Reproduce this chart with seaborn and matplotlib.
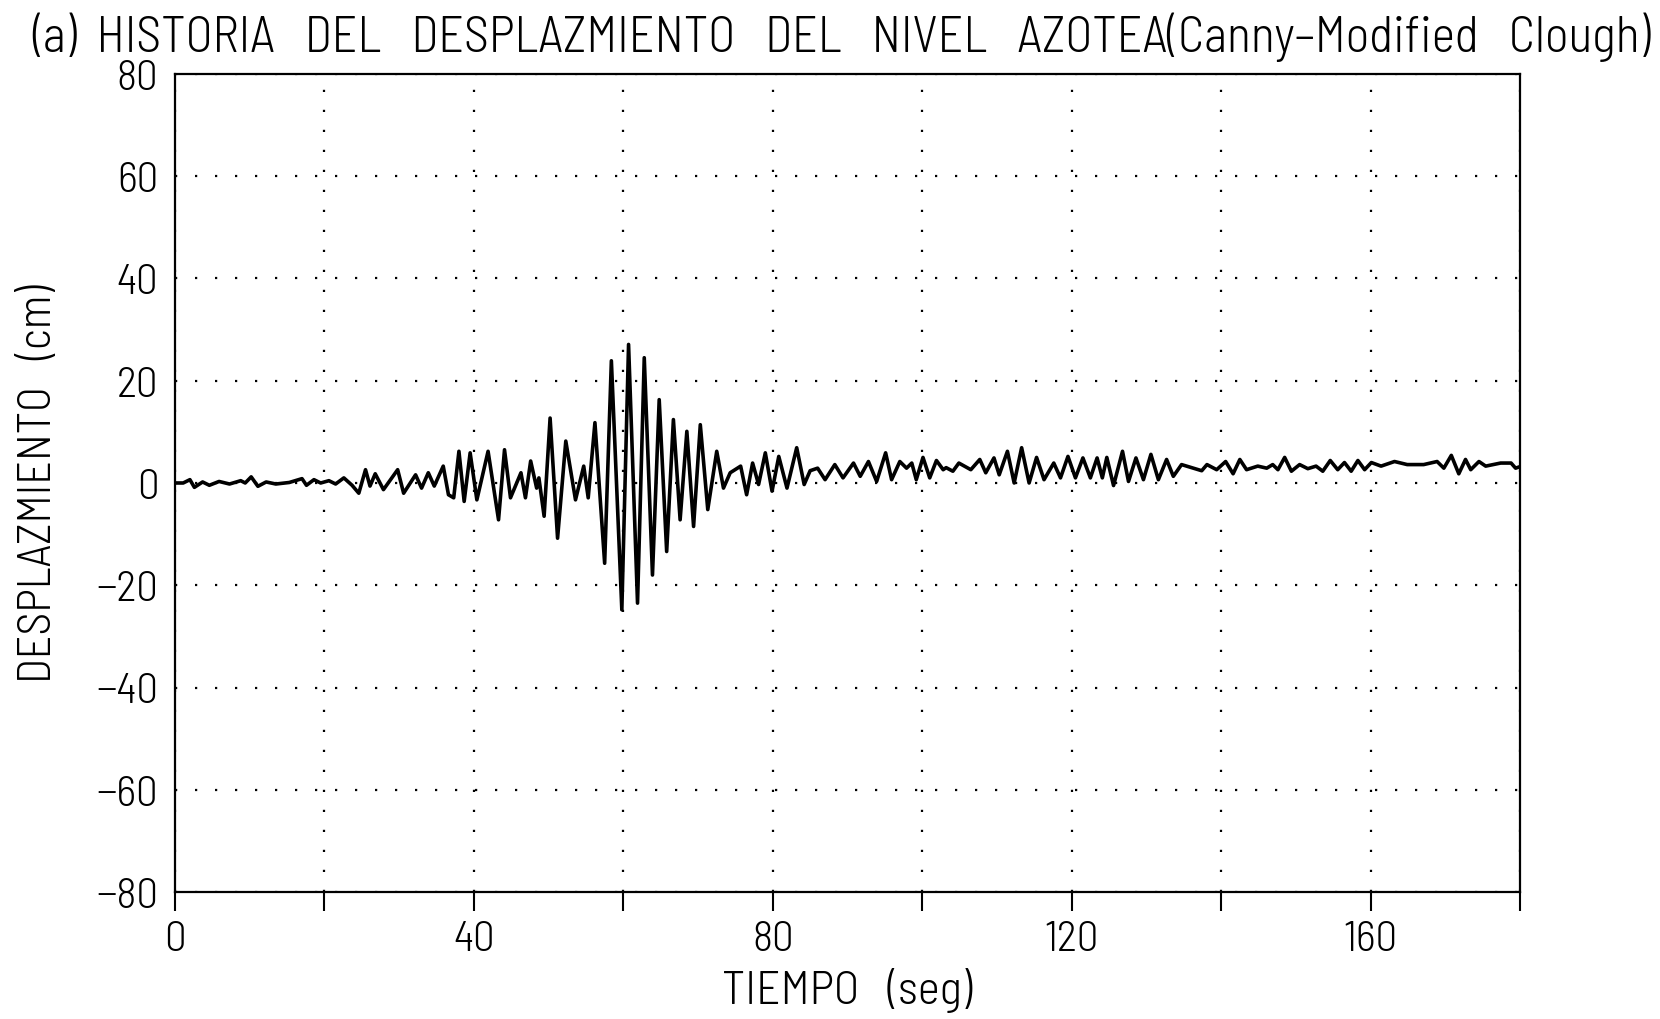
import numpy as np
import pandas as pd
import matplotlib
matplotlib.use("Agg")
import matplotlib.pyplot as plt
import seaborn as sns

# ---- data (extrema of the record) ----
tiempo_seg = [0.0, 1.1, 2.0, 2.6, 3.7, 4.6, 5.9, 7.3, 8.8, 9.4, 10.2, 11.1, 12.2, 13.5, 15.3,
              17.0, 17.6, 18.6, 19.5, 20.6, 21.5, 22.6, 23.7, 24.6, 25.5, 26.1, 26.8, 27.9,
              29.8, 30.6, 32.2, 33.0, 33.9, 34.7, 35.9, 36.6, 37.3, 38.0, 38.7, 39.5, 40.4,
              41.9, 43.3, 44.1, 44.9, 46.3, 46.9, 47.6, 48.4, 48.7, 49.4, 50.2, 51.2, 52.3,
              53.6, 54.7, 55.3, 56.2, 57.5, 58.4, 59.8, 60.7, 61.9, 62.8, 63.9, 64.8, 65.8,
              66.7, 67.6, 68.5, 69.4, 70.3, 71.3, 72.5, 73.4, 74.3, 75.7, 76.5, 77.3, 78.1,
              79.0, 79.9, 80.8, 81.9, 83.2, 84.2, 85.0, 86.0, 87.0, 88.3, 89.4, 90.8, 91.7,
              92.8, 93.9, 95.1, 95.9, 97.0, 97.9, 98.6, 99.2, 100.1, 101.0, 101.9, 102.8,
              103.2, 104.1, 104.9, 106.5, 107.7, 108.5, 109.6, 110.3, 111.4, 112.3, 113.3,
              114.3, 115.3, 116.3, 117.6, 118.5, 119.5, 120.5, 121.5, 122.5, 123.4, 124.1,
              124.7, 125.6, 126.8, 127.6, 128.6, 129.6, 130.6, 131.6, 132.7, 133.6, 134.7,
              137.4, 138.1, 139.4, 140.6, 141.6, 142.5, 143.4, 144.9, 146.1, 146.9, 147.6,
              148.5, 149.4, 150.5, 151.6, 152.7, 153.6, 154.6, 155.6, 156.5, 157.4, 158.3,
              159.2, 160.1, 161.4, 163.2, 164.9, 167.1, 168.9, 169.8, 170.8, 171.8, 172.7,
              173.4, 174.5, 175.4, 177.4, 178.8, 179.4, 180.0]
desplazamiento_cm = [0.0, 0.0, 0.65, -0.85, 0.2, -0.45, 0.3, -0.2, 0.45, 0.0, 1.2, -0.65, 0.2, -0.2, 0.1,
                     0.85, -0.45, 0.65, 0.0, 0.45, -0.2, 1.0, -0.45, -2.0, 2.6, -0.6, 1.8, -1.3,
                     2.6, -2.0, 1.6, -1.0, 2.0, -0.6, 3.3, -2.3, -2.9, 6.2, -3.6, 5.9, -3.3,
                     6.2, -7.2, 6.5, -2.9, 2.0, -2.9, 4.3, -1.0, 1.0, -6.5, 12.7, -10.8, 8.2,
                     -3.3, 3.3, -2.9, 11.8, -15.7, 23.9, -24.8, 27.1, -23.5, 24.5, -18.0, 16.3, -13.4,
                     12.4, -7.2, 10.1, -8.5, 11.4, -5.2, 6.2, -1.0, 2.0, 3.3, -2.3, 3.9, -0.3,
                     5.9, -1.6, 5.2, -1.0, 6.9, -0.3, 2.4, 2.9, 0.65, 3.6, 1.0, 3.9, 1.3,
                     4.2, 0.3, 5.9, 0.65, 4.2, 2.9, 3.9, 0.65, 5.0, 1.0, 4.4, 2.6,
                     3.0, 2.3, 3.9, 2.6, 4.6, 2.0, 4.9, 1.6, 6.2, 0.0, 6.9,
                     0.0, 5.0, 0.65, 3.9, 1.0, 5.2, 1.0, 4.9, 1.0, 4.9, 1.0,
                     5.0, -0.5, 6.2, 0.3, 4.9, 0.65, 5.6, 0.65, 4.6, 1.3, 3.6,
                     2.4, 3.6, 2.6, 4.2, 1.8, 4.6, 2.6, 3.3, 2.9, 3.6, 2.6,
                     5.0, 2.3, 3.6, 2.8, 3.3, 2.3, 4.4, 2.6, 4.0, 2.3, 4.4,
                     2.6, 4.0, 3.3, 4.2, 3.6, 3.6, 4.2, 2.9, 5.4, 1.8, 4.6,
                     2.6, 4.2, 3.3, 3.9, 3.9, 2.9, 3.2]

x_ticks = [0, 20, 40, 60, 80, 100, 120, 140, 160, 180]
x_tick_labels = ["0", "", "40", "", "80", "", "120", "", "160", ""]
y_ticks = [-80, -60, -40, -20, 0, 20, 40, 60, 80]
y_tick_labels = ["\u221280", "\u221260", "\u221240", "\u221220", "0", "20", "40", "60", "80"]

titulo = "(a)  HISTORIA   DEL   DESPLAZMIENTO   DEL   NIVEL   AZOTEA(Canny\u2013Modified   Clough)"
etiqueta_x = "TIEMPO   (seg)"
etiqueta_y = "DESPLAZMIENTO   (cm)"

df = pd.DataFrame({"t": tiempo_seg, "d": desplazamiento_cm})

sns.set_theme(style="white")
plt.rcParams["font.family"] = ["Barlow Semi Condensed", "DejaVu Sans"]
plt.rcParams["font.weight"] = 300
plt.rcParams["axes.unicode_minus"] = True

fig = plt.figure(figsize=(16.6, 10.2), dpi=100)
ax = fig.add_axes([0.1054, 0.1245, 0.8103, 0.802])

sns.lineplot(data=df, x="t", y="d", ax=ax, color="black", linewidth=2.6,
             sort=False, estimator=None)

ax.set_xlim(0, 180)
ax.set_ylim(-80, 80)
ax.set_xticks(x_ticks)
ax.set_xticklabels(x_tick_labels)
ax.set_yticks(y_ticks)
ax.set_yticklabels(y_tick_labels)
ax.tick_params(axis="x", direction="out", length=14, width=1.5, color="black",
               labelsize=31, pad=6, bottom=True)
ax.tick_params(axis="y", length=0, labelsize=31, pad=12)
for lab in ax.get_xticklabels() + ax.get_yticklabels():
    lab.set_color("black")
    lab.set_fontweight(300)

ax.grid(True, color="black", linestyle=(0, (1, 8)), linewidth=1.6)
for s in ax.spines.values():
    s.set_color("black")
    s.set_linewidth(1.6)

ax.set_xlabel(etiqueta_x, fontsize=34, color="black", labelpad=6, fontweight=300)
ax.set_ylabel(etiqueta_y, fontsize=33, color="black", labelpad=26, fontweight=300)
fig.text(0.507, 0.963, titulo, ha="center", va="center", fontsize=36, color="black",
         fontweight=300)

fig.savefig("out.png", dpi=100, facecolor="white")
